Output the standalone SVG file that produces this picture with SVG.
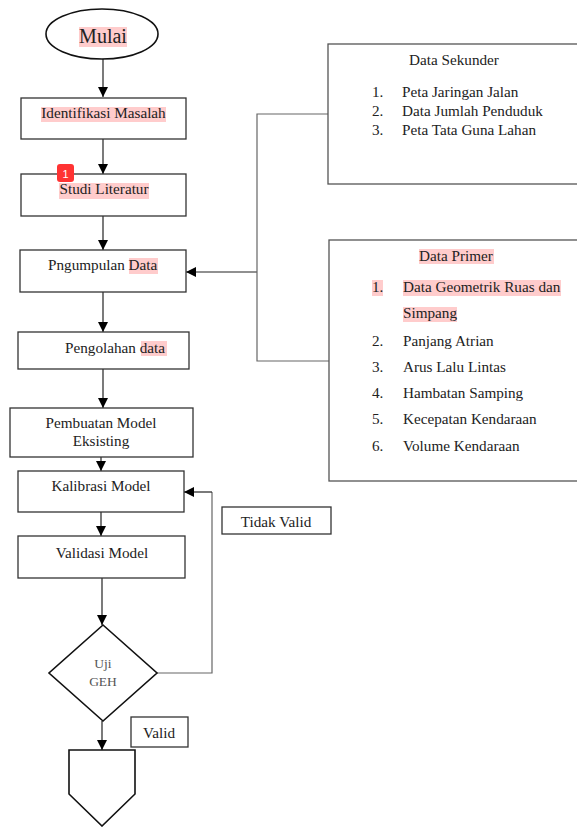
<svg xmlns="http://www.w3.org/2000/svg" width="577" height="827" viewBox="0 0 577 827">
<style>
text{font-family:"Liberation Serif","Times New Roman",serif;font-size:15.2px;fill:#222}
.c{text-anchor:middle}
.box{fill:#fff;stroke:#333;stroke-width:1.3}
.hl{fill:#fcc}
.ln{fill:none;stroke:#222;stroke-width:1.2}
.br{fill:none;stroke:#666;stroke-width:1.2}
</style>
<defs>
<marker id="ah" viewBox="0 0 10 10" refX="10" refY="5" markerWidth="10" markerHeight="10" markerUnits="userSpaceOnUse" orient="auto">
<path d="M0,0 L10,5 L0,10 z" fill="#000"/>
</marker>
</defs>
<g id="connectors">
<line class="ln" x1="103" y1="59" x2="103" y2="97" marker-end="url(#ah)"/>
<line class="ln" x1="103" y1="139" x2="103" y2="174" marker-end="url(#ah)"/>
<line class="ln" x1="103" y1="216" x2="103" y2="250" marker-end="url(#ah)"/>
<line class="ln" x1="103" y1="292" x2="103" y2="332" marker-end="url(#ah)"/>
<line class="ln" x1="103" y1="369" x2="103" y2="408" marker-end="url(#ah)"/>
<line class="ln" x1="101" y1="457" x2="101" y2="471" marker-end="url(#ah)"/>
<line class="ln" x1="101" y1="512" x2="101" y2="536" marker-end="url(#ah)"/>
<line class="ln" x1="102" y1="578" x2="102" y2="625" marker-end="url(#ah)"/>
<line class="ln" x1="102" y1="721" x2="102" y2="750" marker-end="url(#ah)"/>
<line class="ln" x1="257" y1="272" x2="186" y2="272" marker-end="url(#ah)"/>
<path class="br" d="M328,114 H257 V361 H329"/>
<path class="br" d="M157,673 H212 V492"/>
<line class="ln" x1="212" y1="492" x2="184" y2="492" marker-end="url(#ah)"/>
</g>
<g id="mulai">
<ellipse cx="102" cy="34" rx="56" ry="25" fill="#fff" stroke="#111" stroke-width="1.6"/>
<rect class="hl" x="79" y="27" width="48" height="20"/>
<text class="c" x="103" y="43" style="font-size:20px">Mulai</text>
</g>
<g id="identifikasi">
<rect class="box" x="21" y="98" width="165" height="41"/>
<rect class="hl" x="41" y="107" width="125" height="15"/>
<text class="c" x="103.5" y="118">Identifikasi Masalah</text>
</g>
<g id="studi">
<rect class="box" x="21" y="174" width="165" height="42"/>
<rect class="hl" x="59" y="183" width="90" height="16"/>
<text class="c" x="104" y="194">Studi Literatur</text>
<rect x="57" y="164" width="17" height="18" rx="3" fill="#f33"/>
<text class="c" x="65.5" y="178" style="font-family:'Liberation Sans',Arial,sans-serif;font-size:11px;fill:#fff">1</text>
</g>
<g id="pengumpulan">
<rect class="box" x="20" y="250" width="166" height="42"/>
<rect class="hl" x="129" y="258" width="29" height="16"/>
<text x="48" y="270">Pngumpulan Data</text>
</g>
<g id="pengolahan">
<rect class="box" x="18" y="332" width="171" height="37"/>
<rect class="hl" x="141" y="341" width="26" height="15"/>
<text x="65" y="353">Pengolahan data</text>
</g>
<g id="pembuatan">
<rect class="box" x="10" y="408" width="183" height="49"/>
<text class="c" x="101" y="428">Pembuatan Model</text>
<text class="c" x="101" y="446">Eksisting</text>
</g>
<g id="kalibrasi">
<rect class="box" x="18" y="471" width="166" height="41"/>
<text class="c" x="101" y="491">Kalibrasi Model</text>
</g>
<g id="validasi">
<rect class="box" x="18" y="536" width="167" height="42"/>
<text class="c" x="102" y="558">Validasi Model</text>
</g>
<g id="uji">
<polygon points="103,625 157,673 103,721 49,673" fill="#fff" stroke="#111" stroke-width="1.6"/>
<text class="c" x="103" y="668" style="font-size:13.5px;fill:#555">Uji</text>
<text class="c" x="103" y="686" style="font-size:13.5px;fill:#555">GEH</text>
</g>
<g id="selesai">
<polygon points="69,750 135,750 135,794 102,826 69,794" fill="#fff" stroke="#111" stroke-width="1.6"/>
</g>
<g id="tidak-valid">
<rect class="box" x="222" y="507" width="109" height="27"/>
<text class="c" x="276" y="527">Tidak Valid</text>
</g>
<g id="valid">
<rect class="box" x="131" y="717" width="57" height="30"/>
<text class="c" x="159" y="738">Valid</text>
</g>
<g id="sekunder">
<rect class="box" x="328" y="44" width="260" height="140" style="stroke:#555"/>
<text class="c" x="454" y="65">Data Sekunder</text>
<text x="372" y="97">1.</text><text x="402" y="97">Peta Jaringan Jalan</text>
<text x="372" y="116">2.</text><text x="402" y="116">Data Jumlah Penduduk</text>
<text x="372" y="135">3.</text><text x="402" y="135">Peta Tata Guna Lahan</text>
</g>
<g id="primer">
<rect class="box" x="329" y="240" width="260" height="241" style="stroke:#555"/>
<rect class="hl" x="419" y="249" width="75" height="15"/>
<text class="c" x="456" y="261">Data Primer</text>
<rect class="hl" x="372" y="280" width="11" height="16"/>
<rect class="hl" x="403" y="280" width="158" height="16"/>
<rect class="hl" x="403" y="307" width="54" height="15"/>
<text x="372" y="292">1.</text><text x="403" y="292">Data Geometrik Ruas dan</text>
<text x="403" y="318">Simpang</text>
<text x="372" y="346">2.</text><text x="403" y="346">Panjang Atrian</text>
<text x="372" y="372">3.</text><text x="403" y="372">Arus Lalu Lintas</text>
<text x="372" y="398">4.</text><text x="403" y="398">Hambatan Samping</text>
<text x="372" y="424">5.</text><text x="403" y="424">Kecepatan Kendaraan</text>
<text x="372" y="451">6.</text><text x="403" y="451">Volume Kendaraan</text>
</g>
</svg>
